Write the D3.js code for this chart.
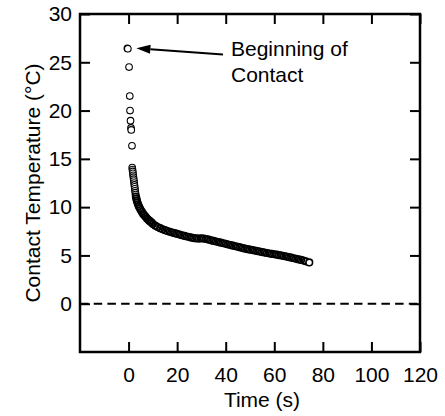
<!DOCTYPE html>
<html>
<head>
<meta charset="utf-8">
<script src="https://cdn.jsdelivr.net/npm/d3@7"></script>
<style>
  body { margin: 0; background: #fff; }
  svg { display: block; font-family: "Liberation Sans", Arial, sans-serif; }
</style>
</head>
<body>
<svg id="chart" width="445" height="416"></svg>
<script>
// time (s) and contact temperature (°C)
const times = [
  -0.5, -0.3, 0.2, 0.5, 0.6, 0.8, 1.0, 1.1, 1.4,
  1.5, 1.6, 1.7, 1.8, 1.9, 2.0, 2.1, 2.2, 2.3, 2.4, 2.5, 2.6, 2.7, 2.8, 2.9, 3.0,
  3.2, 3.4, 3.6, 3.9, 4.2, 4.6, 5.0, 5.5, 6.0, 6.5, 7.0, 7.5, 8.0, 8.5, 9.0, 9.5,
  10, 11, 12, 13, 14, 15, 16, 17, 18, 19, 20, 21, 22, 23, 24, 25, 26, 27, 28, 29,
  30, 31, 32, 33, 34, 35, 36, 37, 38, 39, 40, 41, 42, 43, 44, 45, 46, 47, 48, 49,
  50, 51, 52, 53, 54, 55, 56, 57, 58, 59, 60, 61, 62, 63, 64, 65, 66, 67, 68, 69,
  70, 71, 72, 73, 74.4
];
const temps = [
  26.45, 26.4, 24.5, 21.5, 20.0, 18.95, 18.2, 18.0, 16.35,
  14.1, 13.9, 13.7, 13.5, 13.3, 13.1, 12.9, 12.7, 12.5, 12.3, 12.1, 11.9, 11.7, 11.5, 11.3, 11.1,
  10.9, 10.7, 10.5, 10.3, 10.1, 9.9, 9.7, 9.5, 9.3, 9.15, 9.0, 8.85, 8.72, 8.6, 8.5, 8.4,
  8.25, 8.08, 7.94, 7.82, 7.71, 7.61, 7.52, 7.44, 7.37, 7.3, 7.23, 7.16, 7.09, 7.02, 6.96, 6.9, 6.84, 6.79, 6.76, 6.75,
  6.76, 6.75, 6.7, 6.63, 6.56, 6.5, 6.44, 6.38, 6.32, 6.26, 6.2, 6.13, 6.07, 6.01, 5.95, 5.89, 5.83, 5.76, 5.7, 5.65,
  5.6, 5.55, 5.5, 5.45, 5.4, 5.35, 5.3, 5.25, 5.2, 5.16, 5.12, 5.08, 5.03, 4.98, 4.93, 4.88, 4.83, 4.77, 4.71, 4.65,
  4.59, 4.53, 4.47, 4.39, 4.28
];

const xTicks = [0, 20, 40, 60, 80, 100, 120];
const yTicks = [0, 5, 10, 15, 20, 25, 30];

const xTitle = "Time (s)";
const yTitle = "Contact Temperature (°C)";
const noteLines = ["Beginning of", "Contact"];

let svg = d3.select("#chart");

let plotLeft = 80, plotRight = 420, plotTop = 14, plotBottom = 352;

let x = d3.scaleLinear().domain([-20, 120]).range([plotLeft, plotRight]);
let y = d3.scaleLinear().domain([-5, 30]).range([plotBottom, plotTop]);

// zero line
svg.append("line")
    .attr("x1", plotLeft).attr("x2", plotRight)
    .attr("y1", y(0)).attr("y2", y(0))
    .attr("stroke", "#000")
    .attr("stroke-width", 2)
    .attr("stroke-dasharray", "8.5,5.2");

// data points: open circles, the dense tail overlaps into a dark band
let points = times.map((t, i) => ({ t: t, v: temps[i] }));
let last = points.length - 1;

svg.append("g").selectAll("circle")
    .data(points)
    .enter().append("circle")
    .attr("cx", d => x(d.t))
    .attr("cy", d => y(d.v))
    .attr("r", 3.3)
    .attr("fill", (d, i) => (d.t < 3 || i === last) ? "#fff" : "none")
    .attr("stroke", "#000")
    .attr("stroke-width", d => d.t < 3 ? 1.1 : 1.6);

// axes, ticks pointing inside
function styleAxis(g) {
    g.select(".domain").remove();
    g.selectAll(".tick line").attr("stroke-width", 2);
    g.selectAll(".tick text")
        .attr("font-size", 21)
        .attr("font-family", "Liberation Sans, Arial, sans-serif")
        .attr("fill", "#000");
}

svg.append("g")
    .attr("transform", `translate(0,${plotBottom})`)
    .call(d3.axisBottom(x).tickValues(xTicks).tickSizeInner(-10).tickSizeOuter(0).tickPadding(15))
    .call(styleAxis);

svg.append("g")
    .attr("transform", `translate(0,${plotTop})`)
    .call(d3.axisTop(x).tickValues(xTicks).tickSizeInner(-10).tickSizeOuter(0).tickFormat(""))
    .call(styleAxis);

svg.append("g")
    .attr("transform", `translate(${plotLeft},0)`)
    .call(d3.axisLeft(y).tickValues(yTicks).tickSizeInner(-10).tickSizeOuter(0).tickPadding(8))
    .call(styleAxis);

svg.append("g")
    .attr("transform", `translate(${plotRight},0)`)
    .call(d3.axisRight(y).tickValues(yTicks).tickSizeInner(-10).tickSizeOuter(0).tickFormat(""))
    .call(styleAxis);

// frame
svg.append("rect")
    .attr("x", plotLeft).attr("y", plotTop)
    .attr("width", plotRight - plotLeft).attr("height", plotBottom - plotTop)
    .attr("fill", "none")
    .attr("stroke", "#000")
    .attr("stroke-width", 2.5);

// titles
svg.append("text")
    .attr("x", 262).attr("y", 407)
    .attr("text-anchor", "middle")
    .attr("font-size", 21)
    .text(xTitle);

svg.append("text")
    .attr("transform", `translate(40,${(plotTop + plotBottom) / 2}) rotate(-90)`)
    .attr("text-anchor", "middle")
    .attr("font-size", 21)
    .text(yTitle);

// annotation arrow
let tip = [x(times[0]) + 9, y(temps[0])];
let tail = [223, 54.5];
let ang = Math.atan2(tail[1] - tip[1], tail[0] - tip[0]);
let headLen = 14, headW = 4.5;
let bx = tip[0] + headLen * Math.cos(ang), by = tip[1] + headLen * Math.sin(ang);

svg.append("line")
    .attr("x1", tail[0]).attr("y1", tail[1])
    .attr("x2", bx).attr("y2", by)
    .attr("stroke", "#000")
    .attr("stroke-width", 2);

svg.append("path")
    .attr("d", d3.line()([
        tip,
        [bx + headW * Math.sin(ang), by - headW * Math.cos(ang)],
        [bx - headW * Math.sin(ang), by + headW * Math.cos(ang)]
    ]) + "Z")
    .attr("fill", "#000");

svg.append("g").selectAll("text")
    .data(noteLines)
    .enter().append("text")
    .attr("x", 231)
    .attr("y", (d, i) => 56 + i * 25.5)
    .attr("font-size", 21)
    .text(d => d);
</script>
</body>
</html>
